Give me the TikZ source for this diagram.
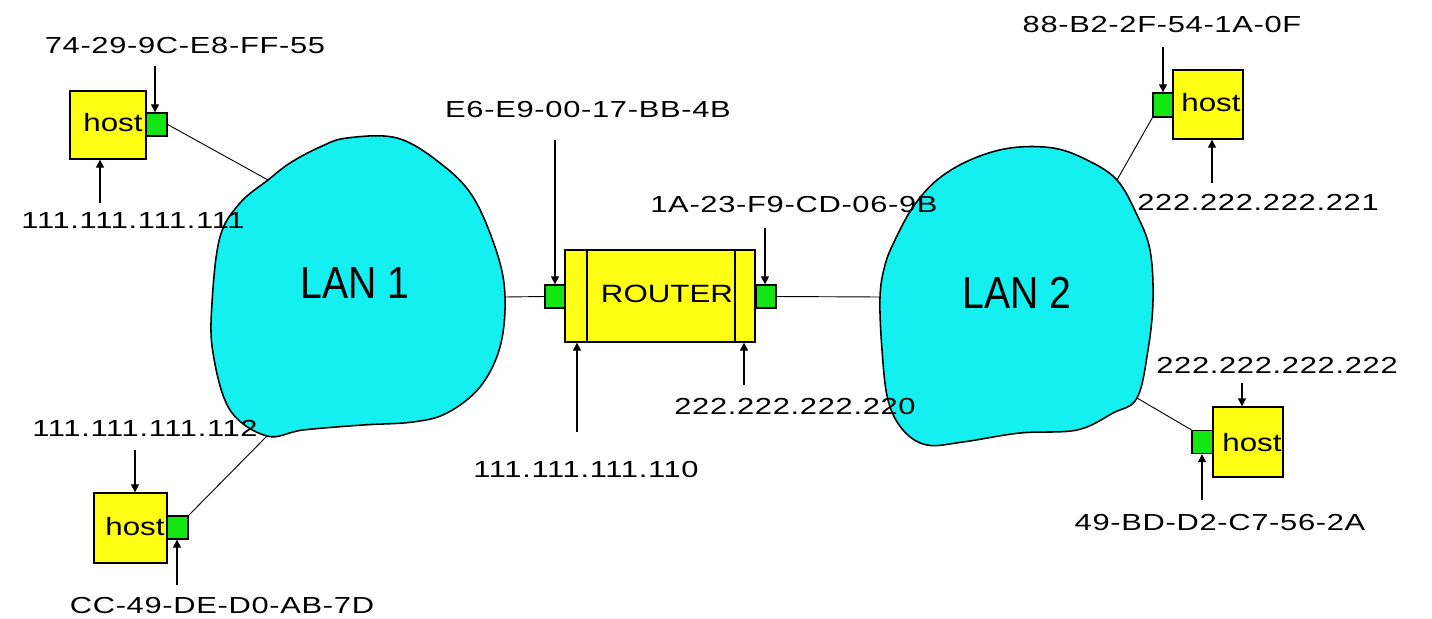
\documentclass[tikz,border=0pt]{standalone}
\usepackage{fontspec}
\setmainfont{Liberation Sans}
\newfontfamily\lblfont[FakeStretch=1.33,LetterSpace=3]{Liberation Sans}
\newfontfamily\boxfont[FakeStretch=1.25]{Liberation Sans}
\newfontfamily\lanfont[FakeStretch=0.87]{Liberation Sans}
\usetikzlibrary{arrows.meta}
\definecolor{hostyellow}{RGB}{255,255,20}
\definecolor{portgreen}{RGB}{20,230,20}
\definecolor{lancyan}{RGB}{20,240,240}
\tikzset{
  lbl/.style={font=\lblfont\fontsize{16.5}{19}\selectfont, inner sep=0pt},
  boxtxt/.style={font=\boxfont\fontsize{17.8}{20}\selectfont, inner sep=0pt},
  lantxt/.style={font=\lanfont\fontsize{32}{36}\selectfont, inner sep=0pt},
  hostbox/.style={draw, line width=0.9pt, fill=hostyellow, minimum width=1.8cm, minimum height=1.75cm, inner sep=0pt},
  portbox/.style={draw, line width=0.9pt, fill=portgreen, minimum width=0.525cm, minimum height=0.575cm, inner sep=0pt},
  routerbox/.style={draw, line width=0.9pt, fill=hostyellow, minimum width=4.75cm, minimum height=2.3cm, inner sep=0pt},
  lan/.style={draw, line width=1.1pt, fill=lancyan},
  wire/.style={line width=0.65pt},
  arr/.style={line width=0.8pt, -{Triangle[length=2mm,width=2mm]}},
}
\begin{document}
\begin{tikzpicture}[x=0.025cm,y=-0.025cm]
\useasboundingbox (0,0) rectangle (1432,618);
% LAN clouds
\draw[lan] plot[smooth cycle, tension=0.6] coordinates {(347,138) (397,138) (440,163) (473,197) (497,253) (505,297) (500,347) (480,387) (447,413) (413,422) (363,425) (303,430) (267,436) (230,410) (213,353) (212,303) (220,237) (240,203) (268,180) (290,163) (320,147)};
\draw[lan] plot[smooth cycle, tension=0.6] coordinates {(1010,148) (1053,148) (1087,160) (1117,180) (1137,215) (1150,250) (1153,300) (1148,350) (1137,398) (1113,413) (1077,430) (1020,433) (963,442) (927,445) (903,430) (888,400) (882,350) (880,297) (885,265) (895,240) (913,207) (937,180) (970,160)};
\coordinate (lan1a) at (268,180);
\coordinate (lan1b) at (267,436);
\coordinate (lan1r) at (505,297);
\coordinate (lan2l) at (880,297);
\coordinate (lan2a) at (1117,180);
\coordinate (lan2b) at (1137,398);
\node[lantxt] (lan1t) at (355,283) {LAN 1};
\node[lantxt] (lan2t) at (1017,293) {LAN 2};
% Router
\node[routerbox] (r) at (660,296) {};
\draw[line width=0.9pt] (587,250) -- (587,342) (735,250) -- (735,342);
\node[boxtxt] (rt) at (667,294) {ROUTER};
\node[portbox, minimum width=0.5cm] (rp1) at (555,296.5) {};
\node[portbox, minimum width=0.5cm] (rp2) at (766,296.5) {};
% Hosts
\node[hostbox, minimum width=1.9cm, minimum height=1.7cm] (h1) at (108,125) {};
\node[boxtxt] (h1t) at (113,123) {host};
\node[portbox] (p1) at (156.5,124.5) {};
\node[hostbox, minimum width=1.825cm] (h2) at (130.5,528) {};
\node[boxtxt] (h2t) at (135,527) {host};
\node[portbox] (p2) at (177.5,527.5) {};
\node[hostbox, minimum width=1.75cm, minimum height=1.725cm] (h3) at (1208,104.5) {};
\node[boxtxt] (h3t) at (1211,103) {host};
\node[portbox, minimum width=0.5cm, minimum height=0.6cm] (p3) at (1163,105) {};
\node[hostbox, minimum width=1.75cm] (h4) at (1248,442) {};
\node[boxtxt] (h4t) at (1252,443) {host};
\node[portbox] (p4) at (1202.5,442) {};
% wires
\draw[wire] (p1.east) -- (lan1a);
\draw[wire] (p2.north east) -- (lan1b);
\draw[wire] (lan1r) -- (rp1.west);
\draw[wire] (rp2.east) -- (lan2l);
\draw[wire] (p3.south west) -- (lan2a);
\draw[wire] (p4.north west) -- (lan2b);
% labels
\node[lbl] (l1) at (185,46) {74-29-9C-E8-FF-55};
\node[lbl] (l2) at (133,221) {111.111.111.111};
\node[lbl] (l3) at (145,428) {111.111.111.112};
\node[lbl] (l4) at (222,606) {CC-49-DE-D0-AB-7D};
\node[lbl] (l5) at (588,110) {E6-E9-00-17-BB-4B};
\node[lbl] (l6) at (794,205) {1A-23-F9-CD-06-9B};
\node[lbl] (l7) at (586,470) {111.111.111.110};
\node[lbl] (l8) at (795,407) {222.222.222.220};
\node[lbl] (l9) at (1162,25) {88-B2-2F-54-1A-0F};
\node[lbl] (l10) at (1258,202) {222.222.222.221};
\node[lbl] (l11) at (1277,365) {222.222.222.222};
\node[lbl] (l12) at (1220,523) {49-BD-D2-C7-56-2A};
% arrow tails
\coordinate (a1) at (155,66);
\coordinate (a2) at (100,203);
\coordinate (a3) at (135,450);
\coordinate (a4) at (177,585);
\coordinate (a5) at (555,140);
\coordinate (a6) at (765,228);
\coordinate (a7) at (577,432);
\coordinate (a8) at (744,385);
\coordinate (a9) at (1163,47);
\coordinate (a10) at (1212,183);
\coordinate (a11) at (1242,383);
\coordinate (a12) at (1202,500);
\draw[arr] (a1) -- (a1 |- p1.north);
\draw[arr] (a2) -- (a2 |- h1.south);
\draw[arr] (a3) -- (a3 |- h2.north);
\draw[arr] (a4) -- (a4 |- p2.south);
\draw[arr] (a5) -- (a5 |- rp1.north);
\draw[arr] (a6) -- (a6 |- rp2.north);
\draw[arr] (a7) -- (a7 |- r.south);
\draw[arr] (a8) -- (a8 |- r.south);
\draw[arr] (a9) -- (a9 |- p3.north);
\draw[arr] (a10) -- (a10 |- h3.south);
\draw[arr] (a11) -- (a11 |- h4.north);
\draw[arr] (a12) -- (a12 |- p4.south);
\end{tikzpicture}
\end{document}
